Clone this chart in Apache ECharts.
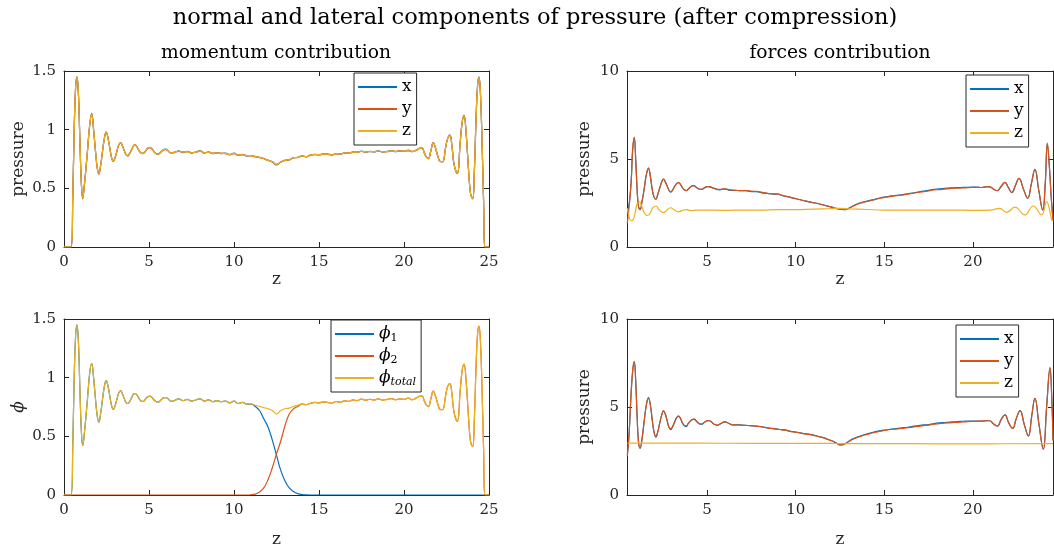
<!DOCTYPE html>
<html><head><meta charset="utf-8">
<script src="https://cdn.jsdelivr.net/npm/echarts@6/dist/echarts.min.js"></script>
<style>html,body{margin:0;padding:0;background:#fff}#c{width:1054px;height:549px}</style>
</head><body><div id="c"></div>
<script>
// ---------- DATA ----------
const mainTitle = 'normal and lateral components of pressure (after compression)';
const subTitles = ['momentum contribution', 'forces contribution'];
const xTicksLeft = [0, 5, 10, 15, 20, 25];
const xTicksRight = [5, 10, 15, 20];

// momentum contribution (top-left) and phi (bottom-left) share this z grid
const zMom = [
0,0.42,0.52,0.6,0.68,0.76,0.85,0.93,1.02,1.1,
1.2,1.37,1.52,1.63,1.74,1.85,1.96,2.05,2.16,2.27,
2.38,2.48,2.6,2.7,2.8,2.9,3.0,3.12,3.22,3.33,
3.44,3.55,3.66,3.76,3.87,3.98,4.08,4.18,4.3,4.42,
4.54,4.65,4.76,4.86,4.96,5.05,5.18,5.3,5.43,5.55,
5.67,5.78,5.9,6.0,6.12,6.22,6.33,
6.5,6.75,7,7.25,7.5,7.75,8,8.25,8.5,8.75,
9,9.25,9.5,9.75,10,10.25,10.5,10.75,11,11.25,
11.5,11.75,12,12.25,12.5,12.75,13,13.25,13.5,13.75,
14,14.25,14.5,14.75,15,15.25,15.5,15.75,16,16.25,
16.5,16.75,17,17.25,17.5,17.75,18,18.25,18.5,18.75,
19,19.25,19.5,19.75,20,20.25,20.5,20.75,
20.9,21.05,21.2,21.32,21.43,21.58,21.72,21.86,22.0,22.12,
22.27,22.45,22.58,22.7,22.82,22.95,23.14,23.3,23.42,23.53,
23.65,23.8,23.92,24.04,24.14,24.24,24.33,24.41,24.5,24.6,
24.68,24.76,25];

const momX = [
0,0,0.45,1.0,1.35,1.45,1.3,0.93,0.55,0.42,
0.53,0.8,1.05,1.14,1.0,0.82,0.67,0.63,0.7,0.82,
0.93,0.98,0.92,0.84,0.76,0.73,0.76,0.82,0.87,0.89,
0.86,0.82,0.785,0.78,0.8,0.83,0.86,0.87,0.85,0.82,
0.8,0.795,0.81,0.83,0.845,0.85,0.835,0.81,0.795,0.79,
0.805,0.82,0.832,0.835,0.82,0.805,0.797,
0.805,0.82,0.805,0.815,0.8,0.81,0.822,0.8,0.81,0.795,
0.805,0.795,0.8,0.785,0.8,0.78,0.79,0.775,0.78,0.768,
0.765,0.752,0.74,0.725,0.70,0.725,0.737,0.745,0.76,0.765,
0.775,0.77,0.782,0.79,0.785,0.793,0.79,0.782,0.797,0.79,
0.803,0.798,0.81,0.805,0.818,0.808,0.816,0.81,0.82,0.808,
0.815,0.822,0.812,0.82,0.815,0.825,0.812,0.83,
0.84,0.845,0.8,0.765,0.756,0.82,0.89,0.84,0.77,0.73,
0.727,0.85,0.93,0.955,0.86,0.7,0.628,0.88,1.06,1.125,
0.98,0.65,0.45,0.415,0.65,1.1,1.38,1.45,1.3,0.85,
0.4,0,0];

const momY = [
0,0,0.45,1.0,1.35,1.45,1.3,0.93,0.55,0.41,
0.53,0.8,1.05,1.13,1.0,0.82,0.67,0.62,0.7,0.82,
0.93,0.98,0.92,0.84,0.76,0.73,0.76,0.82,0.87,0.89,
0.86,0.82,0.785,0.775,0.8,0.83,0.86,0.87,0.85,0.82,
0.8,0.8,0.81,0.83,0.845,0.845,0.835,0.81,0.795,0.795,
0.805,0.82,0.83,0.83,0.82,0.805,0.8,
0.81,0.815,0.81,0.812,0.805,0.806,0.818,0.805,0.806,0.8,
0.8,0.8,0.795,0.79,0.796,0.785,0.786,0.78,0.776,0.772,
0.762,0.755,0.737,0.728,0.705,0.722,0.74,0.742,0.762,0.762,
0.778,0.768,0.785,0.787,0.788,0.79,0.793,0.786,0.793,0.794,
0.8,0.802,0.806,0.81,0.814,0.812,0.812,0.814,0.816,0.812,
0.812,0.818,0.816,0.817,0.818,0.82,0.816,0.826,
0.84,0.845,0.8,0.765,0.75,0.82,0.89,0.84,0.77,0.73,
0.725,0.85,0.93,0.95,0.86,0.7,0.625,0.88,1.06,1.12,
0.98,0.65,0.45,0.41,0.65,1.1,1.38,1.44,1.3,0.85,
0.4,0,0];

const momZ = [
0,0,0.45,1.0,1.35,1.45,1.3,0.93,0.55,0.42,
0.53,0.8,1.05,1.13,1.0,0.82,0.67,0.63,0.7,0.82,
0.93,0.98,0.92,0.84,0.76,0.73,0.76,0.82,0.87,0.89,
0.86,0.82,0.785,0.78,0.8,0.83,0.86,0.87,0.85,0.82,
0.8,0.797,0.81,0.83,0.845,0.848,0.835,0.81,0.795,0.792,
0.805,0.82,0.832,0.833,0.82,0.805,0.798,
0.807,0.818,0.808,0.813,0.803,0.808,0.82,0.803,0.808,0.798,
0.803,0.797,0.798,0.788,0.798,0.783,0.788,0.778,0.778,0.77,
0.764,0.754,0.739,0.727,0.703,0.724,0.739,0.744,0.761,0.764,
0.776,0.77,0.783,0.789,0.787,0.792,0.792,0.784,0.795,0.792,
0.802,0.8,0.808,0.807,0.816,0.81,0.814,0.812,0.818,0.81,
0.813,0.82,0.814,0.818,0.817,0.822,0.814,0.828,
0.84,0.845,0.8,0.765,0.753,0.82,0.89,0.84,0.77,0.73,
0.727,0.85,0.93,0.953,0.86,0.7,0.627,0.88,1.06,1.12,
0.98,0.65,0.45,0.413,0.65,1.1,1.38,1.443,1.3,0.85,
0.4,0,0];

const phi1 = [
0,0,0.45,1.0,1.35,1.45,1.3,0.93,0.55,0.42,
0.53,0.8,1.05,1.12,1.0,0.82,0.67,0.62,0.7,0.82,
0.93,0.975,0.92,0.84,0.76,0.73,0.76,0.82,0.87,0.89,
0.86,0.82,0.785,0.78,0.8,0.83,0.86,0.865,0.85,0.82,
0.8,0.797,0.81,0.83,0.84,0.843,0.83,0.81,0.795,0.792,
0.805,0.82,0.83,0.83,0.82,0.805,0.798,
0.805,0.82,0.805,0.815,0.8,0.81,0.82,0.8,0.81,0.795,
0.805,0.795,0.8,0.785,0.8,0.78,0.79,0.775,0.775,0.755,
0.72,0.65,0.58,0.47,0.34,0.21,0.12,0.06,0.03,0.012,
0.004,0.001,0,0,0,0,0,0,0,0,
0,0,0,0,0,0,0,0,0,0,
0,0,0,0,0,0,0,0,
0,0,0,0,0,0,0,0,0,0,
0,0,0,0,0,0,0,0,0,0,
0,0,0,0,0,0,0,0,0,0,
0,0,0];

const phi2 = [
0,0,0,0,0,0,0,0,0,0,
0,0,0,0,0,0,0,0,0,0,
0,0,0,0,0,0,0,0,0,0,
0,0,0,0,0,0,0,0,0,0,
0,0,0,0,0,0,0,0,0,0,
0,0,0,0,0,0,0,
0,0,0,0,0,0,0,0,0,0,
0,0,0,0,0,0,0,0,0.002,0.008,
0.025,0.06,0.13,0.23,0.35,0.46,0.59,0.69,0.735,0.755,
0.775,0.77,0.782,0.79,0.785,0.793,0.79,0.782,0.797,0.79,
0.803,0.798,0.81,0.805,0.818,0.808,0.816,0.81,0.82,0.808,
0.815,0.822,0.812,0.82,0.815,0.825,0.812,0.83,
0.84,0.845,0.8,0.765,0.753,0.82,0.885,0.84,0.77,0.73,
0.727,0.85,0.93,0.95,0.86,0.7,0.627,0.88,1.06,1.115,
0.98,0.65,0.45,0.413,0.65,1.1,1.38,1.44,1.3,0.85,
0.4,0,0];

const phiTot = [
0,0,0.45,1.0,1.35,1.45,1.3,0.93,0.55,0.42,
0.53,0.8,1.05,1.12,1.0,0.82,0.67,0.62,0.7,0.82,
0.93,0.975,0.92,0.84,0.76,0.73,0.76,0.82,0.87,0.89,
0.86,0.82,0.785,0.78,0.8,0.83,0.86,0.865,0.85,0.82,
0.8,0.797,0.81,0.83,0.84,0.843,0.83,0.81,0.795,0.792,
0.805,0.82,0.83,0.83,0.82,0.805,0.798,
0.805,0.82,0.805,0.815,0.8,0.81,0.82,0.8,0.81,0.795,
0.805,0.795,0.8,0.785,0.8,0.78,0.79,0.775,0.777,0.765,
0.755,0.745,0.735,0.72,0.69,0.72,0.735,0.74,0.755,0.765,
0.775,0.77,0.782,0.79,0.785,0.793,0.79,0.782,0.797,0.79,
0.803,0.798,0.81,0.805,0.818,0.808,0.816,0.81,0.82,0.808,
0.815,0.822,0.812,0.82,0.815,0.825,0.812,0.83,
0.84,0.845,0.8,0.765,0.753,0.82,0.885,0.84,0.77,0.73,
0.727,0.85,0.93,0.95,0.86,0.7,0.627,0.88,1.06,1.115,
0.98,0.65,0.45,0.413,0.65,1.1,1.38,1.44,1.3,0.85,
0.4,0,0];

// forces contribution, top-right (x, y share a grid; z has its own)
const zF = [
0.5,0.62,0.72,0.8,0.89,0.97,1.05,1.13,1.22,1.33,
1.45,1.57,1.69,1.8,1.9,2.0,2.11,2.22,2.33,2.44,
2.54,2.64,2.75,2.85,2.95,3.06,3.17,3.28,3.38,3.5,
3.6,3.71,3.82,3.93,4.05,4.16,4.27,4.38,4.49,4.6,
4.7,4.81,4.92,5.02,5.13,
5.4,5.7,6.0,6.3,6.6,6.9,7.2,7.5,7.8,8.1,
8.4,8.7,9.0,9.3,9.6,9.9,10.2,10.5,10.8,11.1,
11.4,11.7,12.0,12.3,12.6,12.8,13.0,13.3,13.6,13.9,
14.2,14.5,14.8,15.1,15.4,15.7,16.0,16.3,16.6,16.9,
17.2,17.5,17.8,18.1,18.4,18.7,19.0,19.3,19.6,19.9,
20.2,20.5,20.8,
21.0,21.15,21.38,21.6,21.81,22.0,22.19,22.4,22.6,22.85,
23.09,23.3,23.5,23.72,23.94,24.08,24.2,24.32,24.42,24.52];
const fX = [
1.9,2.6,3.8,5.5,6.2,5.0,3.3,2.3,2.14,2.6,
3.3,4.1,4.45,4.0,3.3,2.85,2.7,3.0,3.35,3.7,
3.85,3.7,3.45,3.22,3.12,3.25,3.45,3.6,3.65,3.55,
3.38,3.25,3.2,3.28,3.4,3.47,3.47,3.4,3.32,3.28,
3.28,3.33,3.4,3.43,3.42,
3.33,3.25,3.3,3.22,3.22,3.2,3.2,3.15,3.15,3.08,
3.05,3.0,3.0,2.9,2.85,2.76,2.7,2.62,2.55,2.5,
2.42,2.35,2.27,2.18,2.13,2.12,2.2,2.37,2.5,2.58,
2.65,2.72,2.8,2.85,2.9,2.93,2.97,3.02,3.07,3.12,
3.17,3.22,3.28,3.3,3.33,3.36,3.37,3.38,3.39,3.4,
3.4,3.38,3.43,
3.4,3.3,3.2,3.45,3.67,3.38,3.09,3.5,3.9,3.3,
2.77,3.6,4.41,3.2,2.1,3.5,5.85,4.5,2.8,1.6];
const fY = [
1.36,2.5,3.8,5.6,6.25,5.0,3.3,2.3,2.12,2.6,
3.3,4.1,4.5,4.0,3.3,2.85,2.72,3.0,3.35,3.7,
3.87,3.7,3.45,3.22,3.14,3.25,3.45,3.6,3.67,3.55,
3.38,3.25,3.2,3.28,3.4,3.47,3.48,3.4,3.32,3.27,
3.28,3.33,3.4,3.43,3.43,
3.33,3.27,3.3,3.25,3.22,3.2,3.2,3.17,3.16,3.1,
3.05,3.02,3.0,2.92,2.85,2.78,2.7,2.63,2.56,2.5,
2.43,2.35,2.28,2.2,2.15,2.14,2.2,2.35,2.47,2.56,
2.63,2.7,2.77,2.83,2.88,2.92,2.95,3.0,3.05,3.1,
3.14,3.18,3.24,3.26,3.29,3.32,3.34,3.35,3.36,3.38,
3.39,3.38,3.43,
3.4,3.3,3.2,3.45,3.67,3.38,3.09,3.5,3.9,3.3,
2.77,3.6,4.41,3.2,2.1,3.6,5.9,4.5,2.8,1.5];
const zFz = [
0.5,0.6,0.7,0.81,0.95,1.05,1.17,1.3,1.45,1.58,
1.69,1.8,1.95,2.11,2.3,2.54,2.75,2.95,3.15,3.38,
3.6,3.85,4.1,4.4,5,6,7,8,9,10,
11,12,12.5,13,14,15,16,17,18,19,
20,21,21.5,21.9,22.37,22.93,23.4,23.88,24.16,24.35,
24.45,24.52];
const fZ = [
2.2,1.7,1.5,1.53,2.0,2.45,2.58,2.35,1.95,1.8,
1.82,1.95,2.25,2.33,2.1,1.95,2.12,2.23,2.1,2.0,
2.08,2.12,2.07,2.1,2.1,2.08,2.1,2.1,2.12,2.12,
2.15,2.18,2.2,2.17,2.13,2.1,2.1,2.1,2.1,2.1,
2.08,2.1,2.2,1.97,2.26,1.82,2.33,1.82,2.58,2.0,
1.53,1.5];

// bottom-right panel
const zG = [
0.5,0.6,0.7,0.8,0.89,0.97,1.05,1.13,1.22,1.33,
1.45,1.57,1.69,1.8,1.9,2.0,2.11,2.22,2.33,2.44,
2.54,2.64,2.75,2.85,2.95,3.06,3.17,3.28,3.38,3.5,
3.6,3.71,3.82,3.93,4.05,4.16,4.27,4.38,4.49,4.6,
4.7,4.81,4.92,5.02,5.13,5.25,5.4,5.58,5.8,6.0,
6.2,6.45,6.7,7.0,7.3,7.6,7.9,8.2,8.5,8.8,
9.1,9.4,9.7,10.0,10.3,10.6,10.9,11.2,11.5,11.8,
12.1,12.3,12.5,12.7,12.9,13.1,13.3,13.6,13.9,14.2,
14.5,14.8,15.1,15.4,15.7,16.0,16.3,16.6,16.9,17.2,
17.5,17.8,18.1,18.4,18.7,19.0,19.3,19.6,19.9,20.2,
20.5,20.8,20.96,21.15,21.38,21.6,21.81,22.02,22.24,22.45,
22.66,22.9,23.13,23.32,23.5,23.73,23.97,24.16,24.35,24.45,
24.52];
const gX = [
2.27,3.5,5.5,7.0,7.55,6.5,4.5,3.0,2.65,3.2,
4.2,5.1,5.5,5.1,4.3,3.6,3.28,3.6,4.1,4.55,
4.77,4.6,4.2,3.85,3.72,3.9,4.15,4.4,4.47,4.35,
4.1,3.95,3.88,4.05,4.2,4.28,4.3,4.22,4.1,4.02,
4.02,4.1,4.18,4.22,4.22,4.15,4.02,3.96,4.08,4.15,
4.08,3.98,3.99,3.97,3.95,3.93,3.9,3.86,3.8,3.77,
3.72,3.7,3.62,3.58,3.52,3.47,3.43,3.35,3.27,3.17,
3.05,2.95,2.85,2.88,2.98,3.12,3.22,3.33,3.44,3.52,
3.6,3.66,3.7,3.75,3.77,3.82,3.85,3.9,3.94,3.98,
4.0,4.06,4.1,4.12,4.14,4.16,4.18,4.2,4.2,4.2,
4.2,4.22,4.22,4.05,3.92,4.3,4.55,4.1,3.79,4.35,
4.79,4.0,3.35,4.5,5.49,4.0,2.6,5.0,7.2,5.5,
3.1];
const gY = [
2.2,3.5,5.6,7.1,7.6,6.5,4.5,3.0,2.68,3.2,
4.2,5.1,5.55,5.1,4.3,3.6,3.33,3.6,4.1,4.55,
4.8,4.6,4.2,3.85,3.77,3.9,4.15,4.4,4.5,4.35,
4.1,3.95,3.93,4.05,4.2,4.28,4.32,4.22,4.1,4.05,
4.04,4.1,4.18,4.23,4.22,4.15,4.02,3.97,4.08,4.17,
4.08,3.98,3.99,3.96,3.95,3.92,3.9,3.85,3.8,3.76,
3.72,3.68,3.62,3.57,3.52,3.46,3.42,3.34,3.27,3.16,
3.05,2.95,2.84,2.86,2.97,3.1,3.2,3.31,3.41,3.49,
3.57,3.63,3.68,3.72,3.75,3.79,3.82,3.86,3.9,3.94,
3.97,4.02,4.05,4.08,4.1,4.12,4.14,4.16,4.18,4.19,
4.2,4.22,4.22,4.05,3.92,4.3,4.55,4.1,3.79,4.35,
4.79,4.0,3.35,4.5,5.49,4.0,2.6,5.0,7.25,5.5,
3.1];
const zGz = [0.5,3,6,9,12,12.5,15,18,21,24.52];
const gZ = [2.95,2.95,2.94,2.93,2.93,2.92,2.92,2.91,2.91,2.92];

// ---------- CHART ----------
const SERIF = "'DejaVu Serif', serif";
const AX = '#262626';
const C1 = '#0072BD', C2 = '#D95319', C3 = '#EDB120';
const pairs = (zs, vs) => zs.map((z, i) => [z, vs[i]]);

const grids = [
  {left: 64, top: 71, width: 425, height: 176},
  {left: 627, top: 71, width: 426, height: 176},
  {left: 64, top: 319, width: 425, height: 176},
  {left: 627, top: 319, width: 426, height: 176}
];
const xRange = [[0, 25], [0.48, 24.52], [0, 25], [0.48, 24.52]];
const xTicks = [xTicksLeft, xTicksRight, xTicksLeft, xTicksRight];
const yRange = [[0, 1.5, 0.5], [0, 10, 5], [0, 1.5, 0.5], [0, 10, 5]];
const yNames = ['pressure', 'pressure', 'ϕ', 'pressure'];
const yNameGap = [37, 34, 37, 34];
const xNameGap = [15, 16, 36, 36];

const xAxis = [], yAxis = [];
grids.forEach((g, i) => {
  const base = {
    type: 'value', gridIndex: i, min: xRange[i][0], max: xRange[i][1],
    axisLine: {show: true, onZero: false, lineStyle: {color: AX, width: 1}},
    axisTick: {show: true, inside: true, length: 5, customValues: xTicks[i], lineStyle: {color: AX}},
    splitLine: {show: false}
  };
  xAxis.push(Object.assign({}, base, {
    position: 'bottom',
    axisLabel: {customValues: xTicks[i], color: AX, fontFamily: SERIF, fontSize: 15, margin: 8},
    name: 'z', nameLocation: 'middle', nameGap: xNameGap[i],
    nameTextStyle: {fontFamily: SERIF, fontSize: 17, color: AX}
  }));
  xAxis.push(Object.assign({}, base, {position: 'top', axisLabel: {show: false}}));
  const ybase = {
    type: 'value', gridIndex: i, min: yRange[i][0], max: yRange[i][1], interval: yRange[i][2],
    axisLine: {show: true, onZero: false, lineStyle: {color: AX, width: 1}},
    axisTick: {show: true, inside: true, length: 5, lineStyle: {color: AX}},
    splitLine: {show: false}
  };
  yAxis.push(Object.assign({}, ybase, {
    position: 'left',
    axisLabel: {color: AX, fontFamily: SERIF, fontSize: 15, margin: 8},
    name: yNames[i], nameLocation: 'middle', nameGap: yNameGap[i], nameRotate: 90,
    nameTextStyle: {fontFamily: SERIF, fontSize: 17, color: AX, fontStyle: i === 2 ? 'italic' : 'normal'}
  }));
  yAxis.push(Object.assign({}, ybase, {position: 'right', axisLabel: {show: false}}));
});

function line(name, gi, data, color) {
  return {
    name, type: 'line', xAxisIndex: gi * 2, yAxisIndex: gi * 2, data,
    showSymbol: false, symbol: 'none', smooth: 0.45, animation: false,
    lineStyle: {color, width: 1.2}, itemStyle: {color}
  };
}

const series = [
  line('mx', 0, pairs(zMom, momX), C1),
  line('my', 0, pairs(zMom, momY), C2),
  line('mz', 0, pairs(zMom, momZ), C3),
  line('fx', 1, pairs(zF, fX), C1),
  line('fy', 1, pairs(zF, fY), C2),
  line('fz', 1, pairs(zFz, fZ), C3),
  line('p1', 2, pairs(zMom, phi1), C1),
  line('p2', 2, pairs(zMom, phi2), C2),
  line('pt', 2, pairs(zMom, phiTot), C3),
  line('gx', 3, pairs(zG, gX), C1),
  line('gy', 3, pairs(zG, gY), C2),
  line('gz', 3, pairs(zGz, gZ), C3)
];

const labelMap = {
  mx: 'x', my: 'y', mz: 'z', fx: 'x', fy: 'y', fz: 'z', gx: 'x', gy: 'y', gz: 'z',
  p1: '{p|ϕ}{s|1}', p2: '{p|ϕ}{s|2}', pt: '{p|ϕ}{t|total}'
};
function legend(names, left, top) {
  return {
    orient: 'vertical', left, top, data: names, icon: 'rect',
    itemWidth: 39, itemHeight: 2, itemGap: 2, padding: [4, 5, 4, 4],
    borderColor: AX, borderWidth: 1, backgroundColor: '#fff', selectedMode: false,
    formatter: n => labelMap[n],
    textStyle: {
      fontFamily: SERIF, fontSize: 17, color: '#000', lineHeight: 20,
      rich: {
        p: {fontFamily: SERIF, fontSize: 17, fontStyle: 'italic', color: '#000', lineHeight: 20},
        s: {fontFamily: SERIF, fontSize: 11, color: '#000', lineHeight: 12, verticalAlign: 'bottom'},
        t: {fontFamily: SERIF, fontSize: 11, fontStyle: 'italic', color: '#000', lineHeight: 12, verticalAlign: 'bottom'}
      }
    }
  };
}

const textStyle = (t, x, y, size) => ({
  type: 'text', x, y, silent: true,
  style: {text: t, fontFamily: SERIF, fontSize: size, fill: '#000', textAlign: 'center', textVerticalAlign: 'middle'}
});

const chart = echarts.init(document.getElementById('c'), null, {renderer: 'canvas'});
chart.setOption({
  animation: false,
  backgroundColor: '#fff',
  grid: grids.map(g => Object.assign({containLabel: false}, g)),
  xAxis, yAxis, series,
  legend: [
    legend(['mx', 'my', 'mz'], 354, 73),
    legend(['fx', 'fy', 'fz'], 966, 75),
    legend(['p1', 'p2', 'pt'], 331, 320),
    legend(['gx', 'gy', 'gz'], 956, 325)
  ],
  graphic: [
    textStyle(mainTitle, 535, 18, 22.5),
    textStyle(subTitles[0], 276, 53, 18.7),
    textStyle(subTitles[1], 840, 53, 18.7)
  ]
});
</script>
</body></html>
